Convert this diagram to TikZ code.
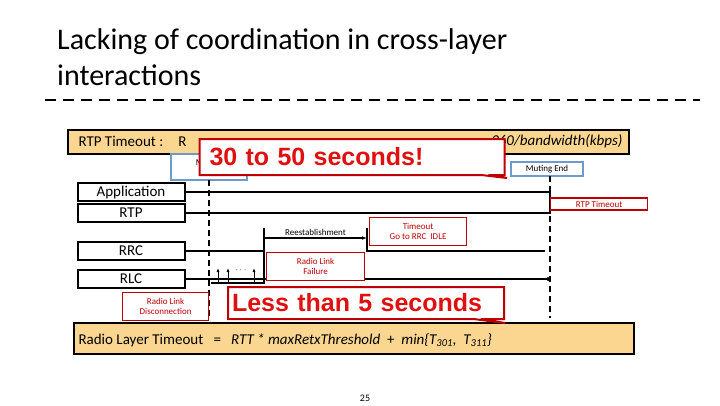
\documentclass[tikz,border=0pt]{standalone}
\usepackage{fontspec}
\setmainfont{Carlito}
\newfontfamily\calloutfont{Liberation Sans}
\usetikzlibrary{shapes.callouts,arrows.meta}
\definecolor{slidered}{HTML}{C00000}
\definecolor{slideredtext}{HTML}{E01010}
\definecolor{slideblue}{HTML}{6E9BC9}
\definecolor{slidebar}{HTML}{FAD690}
\begin{document}
\begin{tikzpicture}[x=1pt,y=-1pt,
  layer/.style={draw, line width=2pt, minimum width=107pt, minimum height=18pt, inner sep=0pt, font=\fontsize{15}{15}\selectfont},
  redbox/.style={draw=slidered, very thick, fill=white, text=slidered, align=center, inner sep=1pt, font=\fontsize{9}{10}\selectfont},
  bluebox/.style={draw=slideblue, very thick, fill=white, align=center, inner sep=1pt, font=\fontsize{9}{9}\selectfont},
  bar/.style={draw, line width=1.5pt, fill=slidebar, anchor=north west, inner sep=0pt},
  bigcall/.style={rectangle callout, draw=slidered, line width=2pt, fill=white, text=slideredtext, inner sep=4pt, align=left, font=\calloutfont\bfseries\fontsize{25}{25}\selectfont},
  wire/.style={very thick},
  marker/.style={very thick, dash pattern=on 6pt off 4pt}]
\useasboundingbox (0,0) rectangle (720,405);

% Title
\node[anchor=north west, align=left, font=\fontsize{30}{36}\selectfont, inner sep=0pt] (title) at (57,28)
  {Lacking of coordination in cross-layer\\interactions};
\draw[line width=2.5pt, dash pattern=on 11pt off 7pt] (45,100) -- (700,100);

% Top bar
\node[bar, minimum width=561pt, minimum height=24pt] (rtpbar) at (67,129) {};
\node[anchor=west, font=\fontsize{15}{15}\selectfont] (rtplabel) at (75,141) {RTP Timeout :\quad R};
\node[anchor=east, font=\itshape\fontsize{15}{15}\selectfont] (rtpformula) at (626,141) {= 360/bandwidth(kbps)};

% Muting markers
\node[bluebox, minimum width=76pt, minimum height=26pt] (mutestart) at (209,167) {Muting\\Start};
\node[bluebox, minimum width=72pt, minimum height=14pt] (muteend) at (547,169) {Muting End};
\draw[marker] (209,180) -- (209,318);
\draw[marker] (550,176) -- (550,318);

% Layers
\node[layer] (app) at (131,192) {Application};
\node[layer] (rtp) at (131,213) {RTP};
\node[layer] (rrc) at (131,251) {RRC};
\node[layer] (rlc) at (131,279) {RLC};

% Application / RTP lines
\draw[wire] (app.east) -- (550,192) -- (550,213) -- (rtp.east);
\node[redbox, minimum width=97pt, minimum height=12pt, anchor=west] (rtpto) at (550,204) {RTP Timeout};

% RRC line with reestablishment
\coordinate (reup) at (264,228);
\coordinate (redown) at (367,228);
\draw[wire] (rrc.east) -- (264,251) -- (reup);
\draw[wire, -{Latex[length=5pt]}] (264,238) -- node[above=-1pt, font=\fontsize{9}{9}\selectfont] (reest) {Reestablishment} (367,238);
\draw[wire] (redown) -- (367,251) -- (545,251);
\node[redbox, minimum width=97pt, minimum height=28pt, anchor=north west] (timeout) at (369,217) {Timeout\\Go to RRC\ \ IDLE};

% RLC line with retransmissions
\draw[wire, -{Circle[length=4pt]}] (rlc.east) -- (550,279);
\draw[wire] (211,283) -- (264,283) -- (264,251);
\foreach \ax in {218,228,254}
  \draw[thick, -{Latex[length=4pt]}] (\ax,282) -- (\ax,268);
\node[font=\bfseries\fontsize{9}{9}\selectfont] (dots) at (241,270) {$\cdots$};
\node[redbox, minimum width=98pt, minimum height=28pt, anchor=north west] (rlf) at (266,252) {Radio Link\\Failure};
\node[redbox, minimum width=86pt, minimum height=28pt, anchor=north west] (rld) at (122,292) {Radio Link\\Disconnection};

% Bottom bar
\node[bar, minimum width=560pt, minimum height=31pt] (radiobar) at (73,322) {};
\node[anchor=west, font=\fontsize{15}{15}\selectfont] (radiolabel) at (75,340)
  {Radio Layer Timeout \ \ = \ \ \textit{RTT * maxRetxThreshold} \ + \ \textit{min\{T\textsubscript{301}, \ T\textsubscript{311}\}}};

% Callouts
\node[bigcall, text width=297pt, minimum height=36pt, callout absolute pointer={(507,178)}] (longcall) at (352,157) {\hspace{6pt}30 to 50 seconds!};
\node[bigcall, text width=268pt, minimum height=32pt, callout absolute pointer={(505,323)}] (shortcall) at (366,303) {Less than 5 seconds};

% Page number
\node[font=\fontsize{10}{10}\selectfont] (page) at (365,398) {25};
\end{tikzpicture}
\end{document}
